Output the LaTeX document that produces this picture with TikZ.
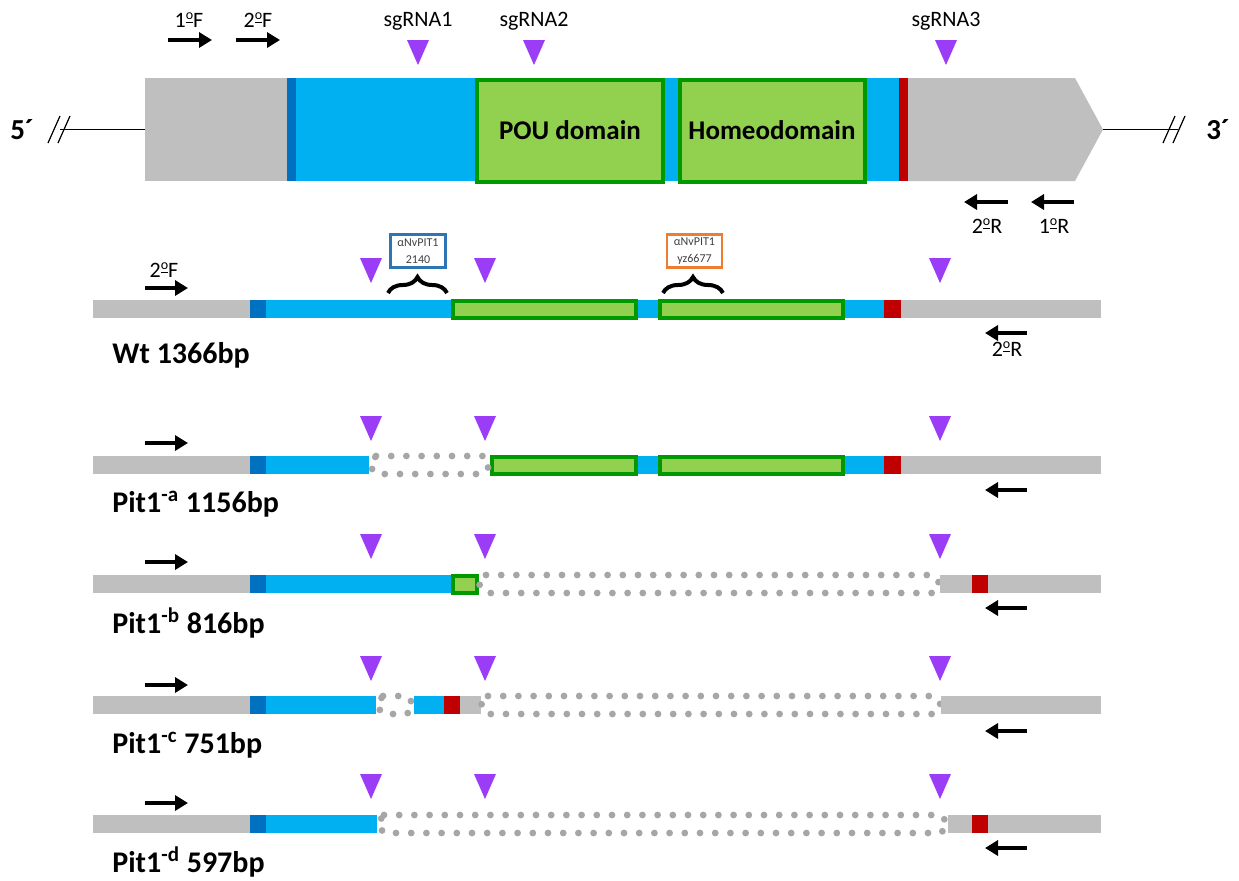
\documentclass[tikz,border=0pt]{standalone}
\usepackage{fontspec}
\setmainfont{Carlito}
\newcommand\ordo{\raisebox{0.36em}{\fontsize{7}{7}\selectfont\underline{o}}}
\usetikzlibrary{arrows.meta,decorations.pathreplacing}
\definecolor{cgray}{HTML}{BFBFBF}
\definecolor{clblue}{HTML}{00B0F0}
\definecolor{cdblue}{HTML}{0070C0}
\definecolor{cgreen}{HTML}{92D050}
\definecolor{cgborder}{HTML}{009A00}
\definecolor{cred}{HTML}{C00000}
\definecolor{cpurple}{HTML}{9B3DF7}
\definecolor{cdot}{HTML}{A6A6A6}
\definecolor{cboxblue}{HTML}{2E75B6}
\definecolor{cboxorange}{HTML}{ED7D31}
\definecolor{ctxt}{HTML}{404040}
\newcommand\seg[4]{\fill[#1] (#2,{#4-9}) rectangle (#3,{#4+9});}
\newcommand\gbox[3]{\filldraw[gbx] (#1,{#3-8.5}) rectangle (#2,{#3+8.5});}
\newcommand\delreg[3]{\draw[dots] ({#1+7},{#3-9}) -- ({#2-7},{#3-9}) -- (#2,#3) -- ({#2-7},{#3+9}) -- ({#1+7},{#3+9}) -- (#1,#3) -- cycle;}
\newcommand\tri[2]{\fill[cpurple] ({#1-11},#2) -- ({#1+11},#2) -- (#1,{#2+25}) -- cycle;}
\tikzset{
  gbx/.style={fill=cgreen, draw=cgborder, line width=2pt},
  dots/.style={draw=cdot, line width=3.4pt, line cap=round, dash pattern=on 0pt off 7.6pt},
  primer/.style={draw=black, line width=2pt, -{Triangle[length=6.5pt,width=7.5pt]}},
  small/.style={font=\fontsize{11}{13}\selectfont, inner sep=0pt},
  rowlab/.style={font=\fontsize{15}{18}\selectfont\bfseries, inner sep=0pt, anchor=west},
  dom/.style={font=\fontsize{13.5}{16}\selectfont\bfseries, inner sep=0pt},
  ab/.style={draw=#1, line width=1.1pt, fill=white, minimum width=27.5pt, minimum height=16.5pt, inner sep=0pt, align=center, text=ctxt, font=\fontsize{6}{8.5}\selectfont},
  brc/.style={draw=black, line width=2pt, decorate, decoration={brace, amplitude=8pt}},
  thinln/.style={draw=black, line width=0.6pt}
}
\begin{document}
\begin{tikzpicture}[x=0.5pt, y=-0.5pt]
\useasboundingbox (0,0) rectangle (1239,880);
% ---------- top gene ----------
\draw[thinln] (60,129.5) -- (145,129.5);
\draw[thinln] (48,143) -- (60,116);
\draw[thinln] (58,143) -- (70,116);
\node[font=\fontsize{14.5}{16}\selectfont\bfseries, inner sep=0pt] (five) at (22,130) {5´};
\fill[cgray] (145,78) rectangle (287,181);
\fill[cdblue] (287,78) rectangle (296,181);
\fill[clblue] (296,78) rectangle (899,181);
\fill[cred] (899,78) rectangle (908,181);
\fill[cgray] (908,78) -- (1075,78) -- (1103,129.5) -- (1075,181) -- (908,181) -- cycle;
\filldraw[gbx] (477,80) rectangle (663,181.5);
\filldraw[gbx] (680,80) rectangle (865,181.5);
\node[dom] (pou) at (570,130) {POU domain};
\node[dom] (hom) at (772,130) {Homeodomain};
\draw[thinln] (1103,129.5) -- (1178,129.5);
\draw[thinln] (1163,143) -- (1175,116);
\draw[thinln] (1173,143) -- (1185,116);
\node[font=\fontsize{14.5}{16}\selectfont\bfseries, inner sep=0pt] (three) at (1218,130) {3´};
% primers top
\node[small] (f1) at (189,20) {1\ordo F};
\node[small] (f2) at (258,20) {2\ordo F};
\coordinate (f1a) at (168,40); \coordinate (f1b) at (212,40);
\coordinate (f2a) at (236,40); \coordinate (f2b) at (280,40);
\draw[primer] (f1a) -- (f1b);
\draw[primer] (f2a) -- (f2b);
\coordinate (r2a) at (1008,202); \coordinate (r2b) at (964,202);
\coordinate (r1a) at (1074,202); \coordinate (r1b) at (1031,202);
\draw[primer] (r2a) -- (r2b);
\draw[primer] (r1a) -- (r1b);
\node[small] (r2) at (987,226) {2\ordo R};
\node[small] (r1) at (1054,226) {1\ordo R};
% sgRNAs
\node[small] (sg1) at (418,21) {sgRNA1};
\node[small] (sg2) at (534,21) {sgRNA2};
\node[small] (sg3) at (946,21) {sgRNA3};
\tri{418}{40} \tri{534}{40} \tri{946}{40}
% ---------- Wt ----------
\seg{cgray}{93}{250}{309}
\seg{cdblue}{250}{266}{309}
\seg{clblue}{266}{884}{309}
\seg{cred}{884}{901}{309}
\seg{cgray}{901}{1101}{309}
\gbox{453}{635.5}{309}
\gbox{660}{842.5}{309}
\tri{371}{258} \tri{485}{258} \tri{940}{258}
\node[small] (wf) at (164,270) {2\ordo F};
\coordinate (wfa) at (145,288); \coordinate (wfb) at (188,288);
\draw[primer] (wfa) -- (wfb);
\coordinate (wra) at (1027,333); \coordinate (wrb) at (985,333);
\draw[primer] (wra) -- (wrb);
\node[small] (wr) at (1007,349) {2\ordo R};
\node[ab=cboxblue] (ab1) at (418,251) {αNvPIT1\\2140};
\node[ab=cboxorange] (ab2) at (694.5,251) {αNvPIT1\\yz6677};
\coordinate (b1a) at (388,293); \coordinate (b1b) at (447,293);
\coordinate (b2a) at (663,293); \coordinate (b2b) at (723,293);
\draw[brc] (b1a) -- (b1b);
\draw[brc] (b2a) -- (b2b);
\node[rowlab] (wt) at (112,355) {Wt 1366bp};
% ---------- Pit1-a ----------
\seg{cgray}{93}{250}{465}
\seg{cdblue}{250}{266}{465}
\seg{clblue}{266}{369}{465}
\seg{clblue}{490}{884}{465}
\seg{cred}{884}{901}{465}
\seg{cgray}{901}{1101}{465}
\gbox{492}{635.5}{465}
\gbox{660}{842.5}{465}
\delreg{369}{490}{465}
\tri{371}{416} \tri{485}{416} \tri{940}{416}
\coordinate (afa) at (145,443); \coordinate (afb) at (188,443);
\draw[primer] (afa) -- (afb);
\coordinate (ara) at (1027,490); \coordinate (arb) at (985,490);
\draw[primer] (ara) -- (arb);
\node[rowlab] (pa) at (112,504) {Pit1\textsuperscript{-a} 1156bp};
% ---------- Pit1-b ----------
\seg{cgray}{93}{250}{584}
\seg{cdblue}{250}{266}{584}
\seg{clblue}{266}{452}{584}
\gbox{453}{476.5}{584}
\delreg{479}{940}{584}
\seg{cgray}{940}{1101}{584}
\seg{cred}{972}{988}{584}
\tri{371}{534} \tri{485}{534} \tri{940}{534}
\coordinate (bfa) at (145,562); \coordinate (bfb) at (188,562);
\draw[primer] (bfa) -- (bfb);
\coordinate (bra) at (1027,608); \coordinate (brb) at (985,608);
\draw[primer] (bra) -- (brb);
\node[rowlab] (pb) at (112,623) {Pit1\textsuperscript{-b} 816bp};
% ---------- Pit1-c ----------
\seg{cgray}{93}{250}{705}
\seg{cdblue}{250}{266}{705}
\seg{clblue}{266}{376}{705}
\delreg{376}{414}{705}
\seg{clblue}{414}{444}{705}
\seg{cred}{444}{460}{705}
\seg{cgray}{460}{481}{705}
\delreg{481}{941}{705}
\seg{cgray}{941}{1101}{705}
\tri{371}{656} \tri{485}{656} \tri{940}{656}
\coordinate (cfa) at (145,685); \coordinate (cfb) at (188,685);
\draw[primer] (cfa) -- (cfb);
\coordinate (cra) at (1027,731); \coordinate (crb) at (985,731);
\draw[primer] (cra) -- (crb);
\node[rowlab] (pc) at (112,745) {Pit1\textsuperscript{-c} 751bp};
% ---------- Pit1-d ----------
\seg{cgray}{93}{250}{824}
\seg{cdblue}{250}{266}{824}
\seg{clblue}{266}{377}{824}
\delreg{377}{948}{824}
\seg{cgray}{948}{1101}{824}
\seg{cred}{972}{988}{824}
\tri{371}{774} \tri{485}{774} \tri{940}{774}
\coordinate (dfa) at (145,803); \coordinate (dfb) at (188,803);
\draw[primer] (dfa) -- (dfb);
\coordinate (dra) at (1027,848); \coordinate (drb) at (985,848);
\draw[primer] (dra) -- (drb);
\node[rowlab] (pd) at (112,862) {Pit1\textsuperscript{-d} 597bp};
\end{tikzpicture}
\end{document}
